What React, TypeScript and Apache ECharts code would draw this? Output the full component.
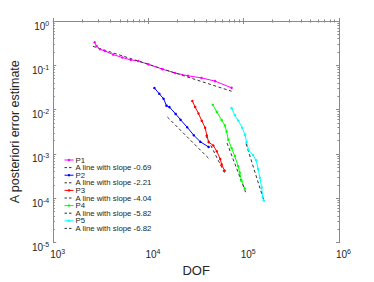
import React, { useEffect, useRef } from 'react';
import * as echarts from 'echarts';

// ---- data ----
const p1X = [2720, 2850, 3100, 3500, 4250, 5300, 6500, 7800, 10000, 14000, 19000, 26000, 36000, 50000, 74500];
const p1Y = [0.33, 0.27, 0.23, 0.21, 0.175, 0.15, 0.133, 0.125, 0.105, 0.082, 0.067, 0.058, 0.052, 0.044, 0.031];
const f1X = [2610, 74500];
const f1Y = [0.268, 0.026];

const p2X = [11530, 13000, 14390, 15450, 16600, 19280, 21720, 25480, 29900, 35000, 42750];
const p2Y = [0.0308, 0.0227, 0.0176, 0.0123, 0.0114, 0.008, 0.0059, 0.004, 0.00264, 0.00188, 0.00144];
const f2X = [15800, 44000];
const f2Y = [0.0068, 0.00075];

const p3X = [28840, 30830, 33500, 36240, 39330, 41020, 42830, 47890, 52080, 56640, 58660, 62980];
const p3Y = [0.0157, 0.0115, 0.0082, 0.0056, 0.0039, 0.0026, 0.00185, 0.00155, 0.00115, 0.00077, 0.00058, 0.00042];
const f3X = [40000, 63000];
const f3Y = [0.0026, 0.00037];

const p4X = [47300, 52080, 58660, 63400, 66000, 68800, 74500, 80600, 87400, 90800, 94500, 102600];
const p4Y = [0.0129, 0.0089, 0.0058, 0.0044, 0.0032, 0.0021, 0.00136, 0.00089, 0.00053, 0.00038, 0.00025, 0.000165];
const f4X = [66800, 104700];
const f4Y = [0.00176, 0.000136];

const p5X = [74500, 80600, 87900, 96200, 103300, 107100, 112400, 124800, 134900, 141500, 147800, 153900, 158400, 162300];
const p5Y = [0.0108, 0.0075, 0.0056, 0.0039, 0.0027, 0.00185, 0.00123, 0.00095, 0.00072, 0.00046, 0.00029, 0.000176, 0.000105, 0.000089];
const f5X = [105700, 163300];
const f5Y = [0.00171, 0.0000858];

const names = ['P1', 'P2', 'P3', 'P4', 'P5'];
const slopes = ['-0.69', '-2.21', '-4.04', '-5.82', '-6.82'];
const colors = ['#ff00ff', '#0000ff', '#ff0000', '#00ff00', '#00ffff'];

const xMin = 1e3, xMax = 1e6;
const yMin = 1e-5, yMax = 1;

const FONT = 'Arial';
const AX = '#8a8a8a';
const TXT = '#262626';
const FIT = '#333333';

function minorLog(lo: number, hi: number): number[] {
  const out: number[] = [];
  for (let d = lo; d < hi; d++) for (let k = 2; k <= 9; k++) out.push(d + Math.log10(k));
  return out;
}

export default function App() {
  const ref = useRef<HTMLDivElement>(null);
  useEffect(() => {
    if (!ref.current) return;
    const chart = echarts.init(ref.current, undefined, { renderer: 'svg' });
    const px = [p1X, p2X, p3X, p4X, p5X];
    const py = [p1Y, p2Y, p3Y, p4Y, p5Y];
    const fx = [f1X, f2X, f3X, f4X, f5X];
    const fy = [f1Y, f2Y, f3Y, f4Y, f5Y];
    const series: any[] = [];
    const legendData: any[] = [];
    for (let i = 0; i < 5; i++) {
      series.push({
        name: names[i], type: 'line', xAxisIndex: 0, yAxisIndex: 0,
        data: px[i].map((x, j) => [x, py[i][j]]),
        symbol: 'circle', symbolSize: 2.5, showSymbol: true,
        lineStyle: { color: colors[i], width: 1 },
        itemStyle: { color: colors[i] },
      });
      const fname = 'A line with slope ' + slopes[i];
      series.push({
        name: fname, type: 'line', xAxisIndex: 0, yAxisIndex: 0,
        data: fx[i].map((x, j) => [x, fy[i][j]]),
        symbol: 'none',
        lineStyle: { color: FIT, width: 1, type: [3, 2.5] },
        itemStyle: { color: FIT },
      });
      legendData.push(
        { name: names[i], itemStyle: { color: colors[i] }, lineStyle: { color: colors[i], width: 1, type: 'solid' } },
        { name: fname, itemStyle: { opacity: 0 }, lineStyle: { color: FIT, width: 1, type: [2.5, 2] } },
      );
    }
    const rich = {
      b: { fontSize: 10, fontFamily: FONT, color: TXT },
      s: { fontSize: 7, fontFamily: FONT, color: TXT, padding: [0, 0, 6, 0] },
    };
    const hiddenLabel = { show: false };
    chart.setOption({
      animation: false,
      backgroundColor: '#fff',
      grid: { left: 49, right: 35, top: 21, bottom: 36, containLabel: false },
      legend: {
        data: legendData, orient: 'vertical', left: 59, top: 151,
        itemWidth: 9, itemHeight: 3, itemGap: -0.4, selectedMode: false,
        textStyle: { fontSize: 7.8, fontFamily: FONT, color: TXT, padding: [0, 0, 0, -3] },
      },
      xAxis: [
        {
          type: 'log', logBase: 10, min: xMin, max: xMax, position: 'bottom',
          name: 'DOF', nameLocation: 'middle', nameGap: 18,
          nameTextStyle: { fontSize: 13, fontFamily: FONT, color: TXT },
          axisLine: { show: true, lineStyle: { color: AX, width: 1 } },
          axisTick: { show: true, inside: true, length: 3, lineStyle: { color: AX } },
          axisLabel: {
            formatter: (v: number) => `{b|10}{s|${Math.round(Math.log10(v))}}`,
            rich, margin: 5, padding: [0, 0, 0, 9],
          },
          splitLine: { show: false },
        },
        {
          type: 'value', min: 3, max: 6, position: 'bottom',
          axisLine: { show: false },
          axisTick: { show: true, inside: true, length: 1.6, customValues: minorLog(3, 6), lineStyle: { color: AX } },
          axisLabel: hiddenLabel, splitLine: { show: false },
        },
        {
          type: 'value', min: 3, max: 6, position: 'top', interval: 1,
          axisLine: { show: true, lineStyle: { color: AX, width: 1 } },
          axisTick: { show: true, inside: true, length: 3, lineStyle: { color: AX } },
          axisLabel: hiddenLabel, splitLine: { show: false },
        },
        {
          type: 'value', min: 3, max: 6, position: 'top',
          axisLine: { show: false },
          axisTick: { show: true, inside: true, length: 1.6, customValues: minorLog(3, 6), lineStyle: { color: AX } },
          axisLabel: hiddenLabel, splitLine: { show: false },
        },
      ],
      yAxis: [
        {
          type: 'log', logBase: 10, min: yMin, max: yMax, position: 'left',
          name: 'A posteriori error estimate', nameLocation: 'middle', nameGap: 30,
          nameTextStyle: { fontSize: 12.5, fontFamily: FONT, color: TXT },
          axisLine: { show: true, lineStyle: { color: AX, width: 1 } },
          axisTick: { show: true, inside: true, length: 3, lineStyle: { color: AX } },
          axisLabel: {
            formatter: (v: number) => `{b|10}{s|${Math.round(Math.log10(v))}}`,
            rich, margin: 4, padding: [10, 0, 0, 0],
          },
          splitLine: { show: false },
        },
        {
          type: 'value', min: -5, max: 0, position: 'left',
          axisLine: { show: false },
          axisTick: { show: true, inside: true, length: 1.6, customValues: minorLog(-5, 0), lineStyle: { color: AX } },
          axisLabel: hiddenLabel, splitLine: { show: false },
        },
        {
          type: 'value', min: -5, max: 0, position: 'right', interval: 1,
          axisLine: { show: true, lineStyle: { color: AX, width: 1 } },
          axisTick: { show: true, inside: true, length: 3, lineStyle: { color: AX } },
          axisLabel: hiddenLabel, splitLine: { show: false },
        },
        {
          type: 'value', min: -5, max: 0, position: 'right',
          axisLine: { show: false },
          axisTick: { show: true, inside: true, length: 1.6, customValues: minorLog(-5, 0), lineStyle: { color: AX } },
          axisLabel: hiddenLabel, splitLine: { show: false },
        },
      ],
      series,
    });
    return () => chart.dispose();
  }, []);
  return (
    <div
      ref={ref}
      style={{ position: 'fixed', left: 0, top: 0, width: 374, height: 282, background: '#fff' }}
    />
  );
}
